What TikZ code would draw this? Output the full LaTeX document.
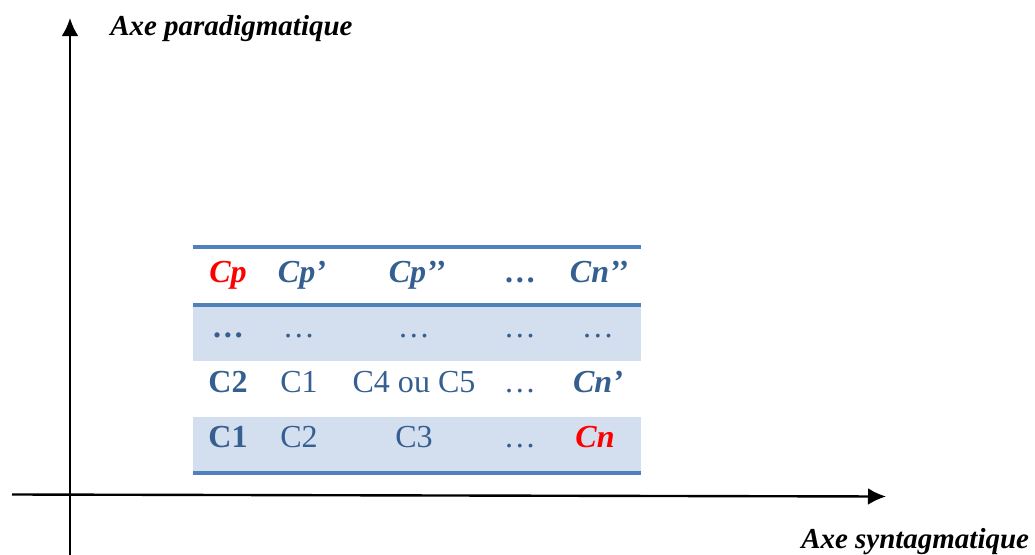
\documentclass[tikz,border=0pt]{standalone}
\usepackage{fontspec}
\setmainfont{Liberation Serif}
\usetikzlibrary{arrows.meta}

\definecolor{tabblue}{HTML}{365F91}
\definecolor{tabline}{HTML}{4F81BD}
\definecolor{tabshade}{HTML}{D3DFEE}
\definecolor{tabred}{HTML}{FF0000}

\tikzset{
  cell/.style={anchor=base,inner sep=0,text=tabblue,font=\fontsize{22.8}{27}\selectfont},
  hcell/.style={cell,font=\fontsize{22.8}{27}\selectfont\bfseries\itshape},
  bcell/.style={cell,font=\fontsize{22.8}{27}\selectfont\bfseries},
  axelabel/.style={anchor=base west,inner sep=0,font=\fontsize{20.6}{25}\selectfont\bfseries\itshape},
  axe/.style={line width=1.7pt,-{Latex[length=0.45cm,width=0.42cm]}},
  tabrule/.style={tabline,line width=2.6pt}
}

\begin{document}
\begin{tikzpicture}[x=0.025cm,y=-0.025cm]
    \useasboundingbox (0,0) rectangle (1035,554);
    % table background and rules
    \fill[tabshade] (193,305) rectangle (641,361);
    \fill[tabshade] (193,417) rectangle (641,473);
    \draw[tabrule] (193,247) -- (641,247);
    \draw[tabrule] (193,305) -- (641,305);
    \draw[tabrule] (193,473) -- (641,473);
    % axes
    \coordinate (ybot) at (70,556);
    \coordinate (ytop) at (70,18);
    \coordinate (xleft) at (12,494.5);
    \coordinate (xright) at (886,496.5);
    \draw[axe] (ybot) -- (ytop);
    \draw[axe] (xleft) -- (xright);
    \node[axelabel] (parad) at (110,35) {Axe paradigmatique};
    \node[axelabel] (syntag) at (801,548) {Axe syntagmatique};
    % header row
    \node[hcell,text=tabred] (cp) at (228,282) {Cp};
    \node[hcell] (cpa) at (302,282) {Cp’};
    \node[hcell] (cpb) at (417,282) {Cp’’};
    \node[bcell] (hdots) at (520,282) {…};
    \node[hcell] (cnb) at (599,282) {Cn’’};
    % row of dots
    \node[bcell] (dotsa) at (228,337) {…};
    \node[cell] (dotsb) at (299,337) {…};
    \node[cell] (dotsc) at (414,337) {…};
    \node[cell] (dotsd) at (520,337) {…};
    \node[cell] (dotse) at (598,337) {…};
    % row C2
    \node[bcell] (ctwo) at (228,392) {C2};
    \node[cell] (cone) at (299,392) {C1};
    \node[cell] (cfour) at (414,392) {C4 ou C5};
    \node[cell] (rdots) at (520,392) {…};
    \node[hcell] (cna) at (598,392) {Cn’};
    % row C1
    \node[bcell] (conehead) at (228,447) {C1};
    \node[cell] (ctwob) at (299,447) {C2};
    \node[cell] (cthree) at (414,447) {C3};
    \node[cell] (ldots) at (520,447) {…};
    \node[hcell,text=tabred] (cn) at (595,447) {Cn};
\end{tikzpicture}
\end{document}
